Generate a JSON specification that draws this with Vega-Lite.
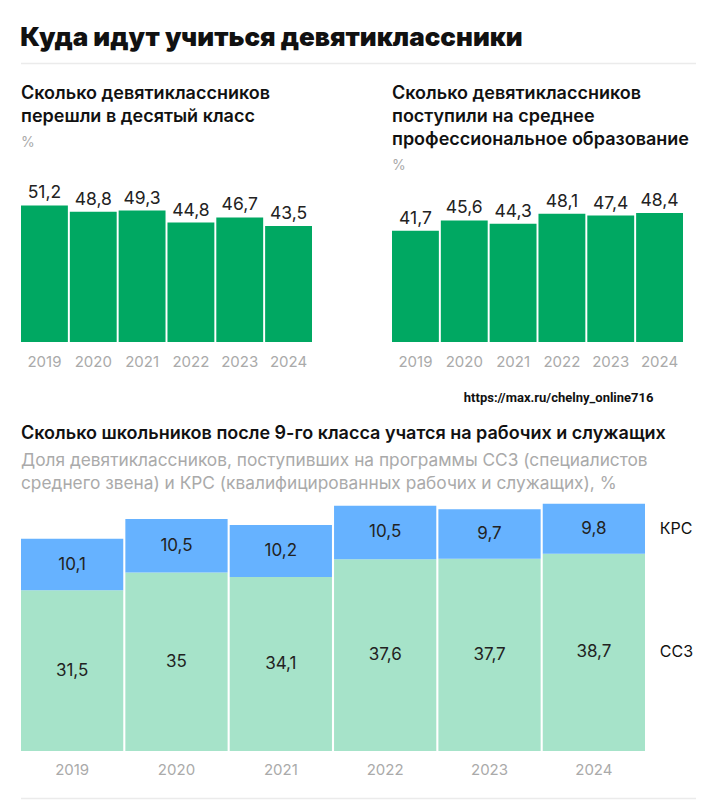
{
  "$schema": "https://vega.github.io/schema/vega-lite/v6.json",
  "background": "white",
  "padding": {"left": 20, "top": 24, "right": 10, "bottom": 0},
  "title": {
    "text": "Куда идут учиться девятиклассники",
    "anchor": "start",
    "font": "Inter",
    "fontSize": 26,
    "fontWeight": 900,
    "color": "#111111",
    "offset": 12
  },
  "config": {
    "locale": {"number": {"decimal": ",", "thousands": " ", "grouping": [3], "currency": ["", " ₽"]}},
    "view": {"stroke": null},
    "font": "Inter",
    "title": {
      "anchor": "start",
      "font": "Inter",
      "fontSize": 18,
      "fontWeight": 600,
      "color": "#111111",
      "lineHeight": 23,
      "subtitleFont": "Inter",
      "subtitleFontSize": 14,
      "subtitleColor": "#aaaaaa",
      "subtitlePadding": 10
    },
    "axisX": {
      "domain": false,
      "ticks": false,
      "labelAngle": 0,
      "labelFont": "Inter",
      "labelFontSize": 15,
      "labelColor": "#aaaaaa",
      "labelPadding": 12
    }
  },
  "spacing": 20,
  "vconcat": [
    {
      "width": 675,
      "height": 1,
      "data": {"values": [{"a": 0, "b": 1}]},
      "mark": {"type": "rule", "color": "#ebebeb", "strokeWidth": 1.5},
      "encoding": {
        "x": {"field": "a", "type": "quantitative", "scale": {"domain": [0, 1]}, "axis": null},
        "x2": {"field": "b"}
      }
    },
    {
      "spacing": 80,
      "hconcat": [
        {
          "width": 291,
          "height": 160,
          "title": {
            "text": ["Сколько девятиклассников", "перешли в десятый класс"],
            "subtitle": "%",
            "offset": 32
          },
          "data": {
            "values": [
              {"year": "2019", "value": 51.2},
              {"year": "2020", "value": 48.8},
              {"year": "2021", "value": 49.3},
              {"year": "2022", "value": 44.8},
              {"year": "2023", "value": 46.7},
              {"year": "2024", "value": 43.5}
            ]
          },
          "encoding": {
            "x": {
              "field": "year",
              "type": "ordinal",
              "scale": {"paddingInner": 0.04, "paddingOuter": 0},
              "axis": {"title": null}
            },
            "y": {
              "field": "value",
              "type": "quantitative",
              "scale": {"domain": [0, 60]},
              "axis": null
            }
          },
          "layer": [
            {"mark": {"type": "bar", "color": "#00a862"}},
            {
              "mark": {"type": "text", "baseline": "alphabetic", "dy": -7, "fontSize": 17.5, "color": "#222222"},
              "encoding": {"text": {"field": "value", "type": "quantitative", "format": ".1f"}}
            }
          ]
        },
        {
          "width": 291,
          "height": 160,
          "title": {
            "text": ["Сколько девятиклассников", "поступили на среднее", "профессиональное образование"],
            "subtitle": "%",
            "offset": 9
          },
          "data": {
            "values": [
              {"year": "2019", "value": 41.7},
              {"year": "2020", "value": 45.6},
              {"year": "2021", "value": 44.3},
              {"year": "2022", "value": 48.1},
              {"year": "2023", "value": 47.4},
              {"year": "2024", "value": 48.4}
            ]
          },
          "encoding": {
            "x": {
              "field": "year",
              "type": "ordinal",
              "scale": {"paddingInner": 0.04, "paddingOuter": 0},
              "axis": {
                "title": "https://max.ru/chelny_online716",
                "titleAnchor": "end",
                "titleAlign": "right",
                "titleX": 261,
                "titleFont": "Roboto",
                "titleFontSize": 13,
                "titleFontWeight": "bold",
                "titleColor": "#111111",
                "titlePadding": 22
              }
            },
            "y": {
              "field": "value",
              "type": "quantitative",
              "scale": {"domain": [0, 60]},
              "axis": null
            }
          },
          "layer": [
            {"mark": {"type": "bar", "color": "#00a862"}},
            {
              "mark": {"type": "text", "baseline": "alphabetic", "dy": -7, "fontSize": 17.5, "color": "#222222"},
              "encoding": {"text": {"field": "value", "type": "quantitative", "format": ".1f"}}
            }
          ]
        }
      ]
    },
    {
      "width": 624,
      "height": 255,
      "title": {
        "text": "Сколько школьников после 9-го класса учатся на рабочих и служащих",
        "subtitle": [
          "Доля девятиклассников, поступивших на программы ССЗ (специалистов",
          "среднего звена) и КРС (квалифицированных рабочих и служащих), %"
        ],
        "subtitleFontSize": 17.3,
        "subtitleLineHeight": 23,
        "subtitlePadding": 9,
        "offset": 4
      },
      "data": {
        "values": [
          {"year": "2019", "series": "ССЗ", "value": 31.5},
          {"year": "2019", "series": "КРС", "value": 10.1},
          {"year": "2020", "series": "ССЗ", "value": 35},
          {"year": "2020", "series": "КРС", "value": 10.5},
          {"year": "2021", "series": "ССЗ", "value": 34.1},
          {"year": "2021", "series": "КРС", "value": 10.2},
          {"year": "2022", "series": "ССЗ", "value": 37.6},
          {"year": "2022", "series": "КРС", "value": 10.5},
          {"year": "2023", "series": "ССЗ", "value": 37.7},
          {"year": "2023", "series": "КРС", "value": 9.7},
          {"year": "2024", "series": "ССЗ", "value": 38.7},
          {"year": "2024", "series": "КРС", "value": 9.8}
        ]
      },
      "encoding": {
        "x": {
          "field": "year",
          "type": "ordinal",
          "scale": {"paddingInner": 0.02, "paddingOuter": 0},
          "axis": {"title": null, "labelPadding": 11}
        },
        "order": {"field": "series", "sort": "descending"}
      },
      "layer": [
        {
          "mark": {"type": "bar"},
          "encoding": {
            "y": {
              "field": "value",
              "type": "quantitative",
              "stack": "zero",
              "scale": {"domain": [0, 50]},
              "axis": null
            },
            "color": {
              "field": "series",
              "type": "nominal",
              "scale": {"domain": ["ССЗ", "КРС"], "range": ["#a6e3c9", "#66b2ff"]},
              "legend": null
            }
          }
        },
        {
          "mark": {"type": "text", "fontSize": 17, "color": "#222222"},
          "encoding": {
            "y": {
              "field": "value",
              "type": "quantitative",
              "stack": "zero",
              "bandPosition": 0.5,
              "scale": {"domain": [0, 50]},
              "axis": null
            },
            "detail": {"field": "series"},
            "text": {"field": "value", "type": "quantitative", "format": "~f"}
          }
        },
        {
          "transform": [{"filter": "datum.year == '2024'"}],
          "mark": {"type": "text", "align": "left", "dx": 66, "fontSize": 16, "color": "#111111"},
          "encoding": {
            "y": {
              "field": "value",
              "type": "quantitative",
              "stack": "zero",
              "bandPosition": 0.5,
              "scale": {"domain": [0, 50]},
              "axis": null
            },
            "detail": {"field": "series"},
            "text": {"field": "series"}
          }
        }
      ]
    },
    {
      "width": 675,
      "height": 1,
      "data": {"values": [{"a": 0, "b": 1}]},
      "mark": {"type": "rule", "color": "#ebebeb", "strokeWidth": 1.5},
      "encoding": {
        "x": {"field": "a", "type": "quantitative", "scale": {"domain": [0, 1]}, "axis": null},
        "x2": {"field": "b"}
      }
    }
  ]
}
